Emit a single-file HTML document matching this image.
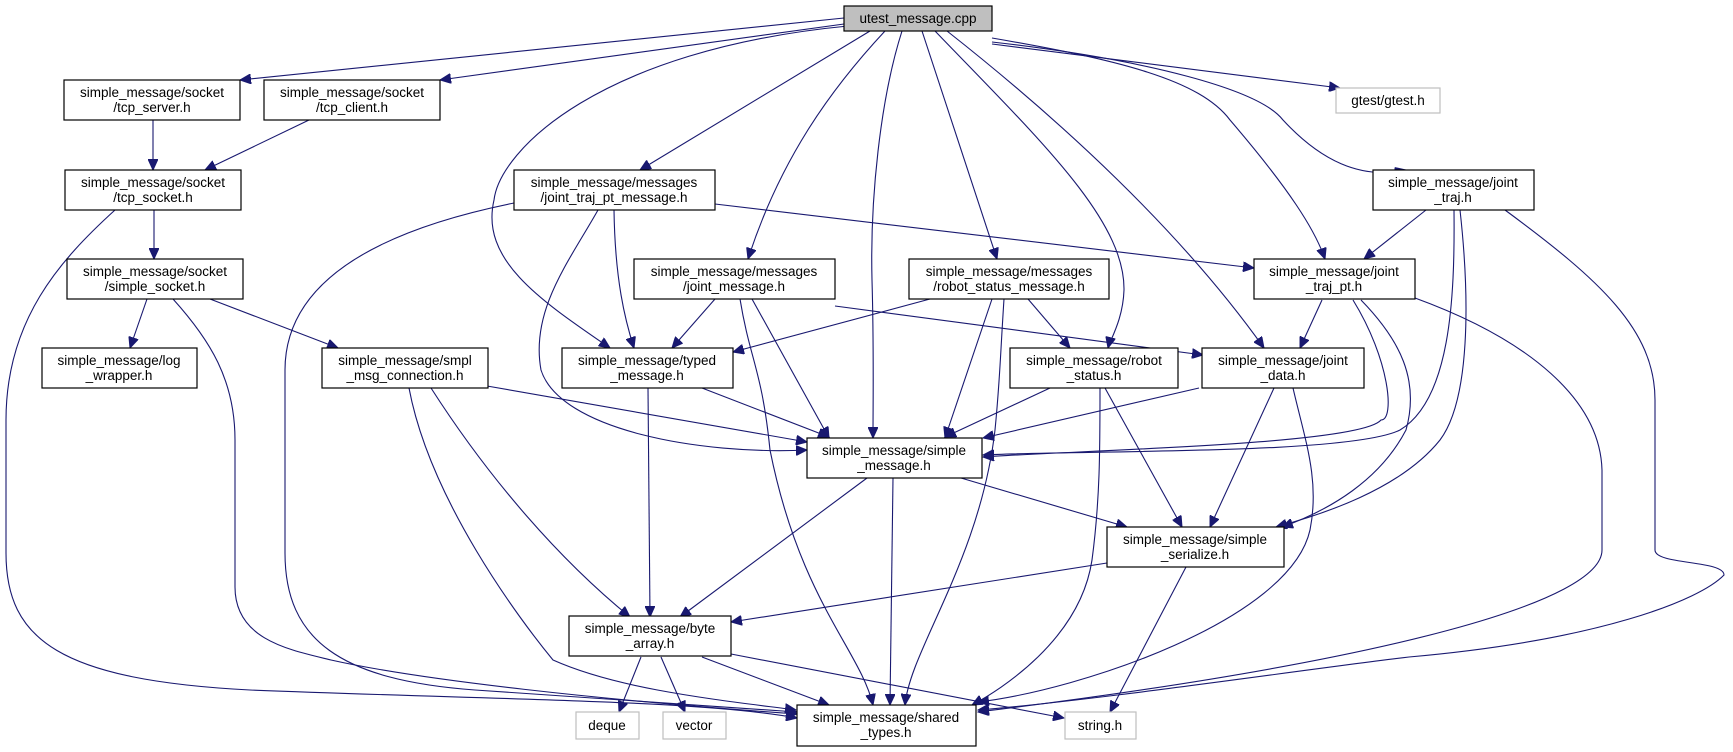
<!DOCTYPE html>
<html><head><meta charset="utf-8"><style>
html,body{margin:0;padding:0;background:#fff;}
svg{display:block;}
text{font-family:"Liberation Sans",sans-serif;font-size:13.5px;fill:#000;text-anchor:middle;}
.e{fill:none;stroke:#191970;stroke-width:1.1;marker-end:url(#a);}
.n{fill:#fff;stroke:#000;stroke-width:1.2;}
.x{fill:#fff;stroke:#bfbfbf;stroke-width:1.2;}
</style></head><body>
<svg width="1733" height="752" viewBox="0 0 1733 752" xmlns="http://www.w3.org/2000/svg">
<defs><marker id="a" markerUnits="userSpaceOnUse" markerWidth="12" markerHeight="10" refX="11" refY="5" orient="auto"><path d="M0,0 L11,5 L0,10 Z" fill="#191970" stroke="#191970"/></marker></defs>

<!-- edges -->
<path class="e" d="M844,18 L240,80"/>
<path class="e" d="M844,24 L440,80"/>
<path class="e" d="M848,26 C600,50 500,150 494,200 C480,260 540,300 610,348"/>
<path class="e" d="M870,31 L640,170"/>
<path class="e" d="M885,31 C830,90 780,160 748,259"/>
<path class="e" d="M902,31 C880,100 870,200 872,280 C874,350 873,400 873,438"/>
<path class="e" d="M922,31 L997,259"/>
<path class="e" d="M935,31 C1040,140 1125,220 1124,290 C1123,320 1110,340 1108,348"/>
<path class="e" d="M947,31 C1060,120 1180,230 1264,348"/>
<path class="e" d="M992,38 C1120,60 1200,80 1230,120 C1290,190 1315,230 1325,259"/>
<path class="e" d="M992,44 L1340,88"/>
<path class="e" d="M992,42 C1150,60 1260,90 1283,120 C1320,160 1360,180 1406,170"/>

<path class="e" d="M153,120 L153,170"/>
<path class="e" d="M309,120 L205,170"/>
<path class="e" d="M154,210 L154,259"/>
<path class="e" d="M115,210 C60,260 6,320 6,420 L6,553 C6,640 60,680 250,690 C500,700 700,700 797,718"/>
<path class="e" d="M147,299 L130,348"/>
<path class="e" d="M210,299 L338,348"/>
<path class="e" d="M173,299 C210,340 235,380 235,440 L235,587 C235,640 290,650 331,660 C420,680 600,700 797,714"/>
<path class="e" d="M514,203 C380,230 285,280 285,370 L285,553 C285,640 340,680 475,690 C600,698 700,705 797,712"/>
<path class="e" d="M598,210 C570,260 530,310 541,370 C560,430 700,455 807,450"/>
<path class="e" d="M614,210 C615,280 625,320 634,348"/>
<path class="e" d="M715,204 L1254,268"/>
<path class="e" d="M715,299 L672,348"/>
<path class="e" d="M740,299 C750,360 762,370 770,450 C800,600 860,650 873,705"/>
<path class="e" d="M752,299 L829,438"/>
<path class="e" d="M835,306 L1203,355"/>
<path class="e" d="M930,299 L733,352"/>
<path class="e" d="M992,299 L945,438"/>
<path class="e" d="M1004,299 C1000,360 1000,380 995,430 C980,560 910,650 905,705"/>
<path class="e" d="M1028,299 L1070,348"/>
<path class="e" d="M487,386 L807,442"/>
<path class="e" d="M431,388 C490,480 560,560 630,617"/>
<path class="e" d="M409,388 C430,500 520,620 553,660 C620,690 720,700 796,710"/>
<path class="e" d="M702,388 L829,437"/>
<path class="e" d="M648,388 L650,617"/>
<path class="e" d="M1050,388 L945,437"/>
<path class="e" d="M1100,388 C1100,450 1100,500 1092,560 C1080,640 1000,690 972,705"/>
<path class="e" d="M1105,388 L1182,527"/>
<path class="e" d="M1199,388 L983,438"/>
<path class="e" d="M1274,388 L1210,527"/>
<path class="e" d="M1293,388 C1305,440 1320,480 1310,530 C1290,620 1080,690 978,702"/>
<path class="e" d="M1322,300 L1300,348"/>
<path class="e" d="M1353,300 C1390,360 1395,420 1381,420 C1360,445 1080,450 983,457"/>
<path class="e" d="M1361,300 C1400,340 1420,380 1406,430 C1380,480 1330,510 1282,527"/>
<path class="e" d="M1415,298 C1530,340 1600,400 1602,470 L1602,550 C1602,600 1400,660 978,712"/>
<path class="e" d="M1426,210 L1364,259"/>
<path class="e" d="M1454,210 C1455,300 1450,400 1400,430 C1350,455 1080,450 983,455"/>
<path class="e" d="M1460,210 C1470,300 1470,400 1440,440 C1400,490 1320,515 1276,527"/>
<path class="e" d="M1505,210 C1600,280 1655,330 1655,400 L1655,550 C1655,565 1724,560 1724,575 C1700,600 1600,640 1409,657 C1300,670 1100,700 978,710"/>
<path class="e" d="M961,478 L1127,527"/>
<path class="e" d="M867,478 L680,617"/>
<path class="e" d="M893,478 L890,705"/>
<path class="e" d="M1107,563 L731,622"/>
<path class="e" d="M1186,567 L1110,712"/>
<path class="e" d="M641,657 L619,712"/>
<path class="e" d="M661,657 L685,712"/>
<path class="e" d="M702,657 L829,705"/>
<path class="e" d="M731,654 L1064,718"/>

<!-- nodes -->
<rect x="844" y="6" width="148" height="25" fill="#bfbfbf" stroke="#000" stroke-width="1.2"/><text x="918" y="23">utest_message.cpp</text>

<rect class="n" x="64" y="80" width="176" height="40"/><text x="152" y="97">simple_message/socket</text><text x="152" y="112">/tcp_server.h</text>
<rect class="n" x="264" y="80" width="176" height="40"/><text x="352" y="97">simple_message/socket</text><text x="352" y="112">/tcp_client.h</text>
<rect class="x" x="1336" y="88" width="104" height="25"/><text x="1388" y="105">gtest/gtest.h</text>

<rect class="n" x="65" y="170" width="176" height="40"/><text x="153" y="187">simple_message/socket</text><text x="153" y="202">/tcp_socket.h</text>
<rect class="n" x="514" y="170" width="201" height="40"/><text x="614" y="187">simple_message/messages</text><text x="614" y="202">/joint_traj_pt_message.h</text>
<rect class="n" x="1373" y="170" width="161" height="40"/><text x="1453" y="187">simple_message/joint</text><text x="1453" y="202">_traj.h</text>

<rect class="n" x="67" y="259" width="176" height="40"/><text x="155" y="276">simple_message/socket</text><text x="155" y="291">/simple_socket.h</text>
<rect class="n" x="634" y="259" width="201" height="40"/><text x="734" y="276">simple_message/messages</text><text x="734" y="291">/joint_message.h</text>
<rect class="n" x="909" y="259" width="200" height="40"/><text x="1009" y="276">simple_message/messages</text><text x="1009" y="291">/robot_status_message.h</text>
<rect class="n" x="1254" y="259" width="161" height="40"/><text x="1334" y="276">simple_message/joint</text><text x="1334" y="291">_traj_pt.h</text>

<rect class="n" x="42" y="348" width="155" height="40"/><text x="119" y="365">simple_message/log</text><text x="119" y="380">_wrapper.h</text>
<rect class="n" x="322" y="348" width="166" height="40"/><text x="405" y="365">simple_message/smpl</text><text x="405" y="380">_msg_connection.h</text>
<rect class="n" x="562" y="348" width="171" height="40"/><text x="647" y="365">simple_message/typed</text><text x="647" y="380">_message.h</text>
<rect class="n" x="1010" y="348" width="168" height="40"/><text x="1094" y="365">simple_message/robot</text><text x="1094" y="380">_status.h</text>
<rect class="n" x="1202" y="348" width="162" height="40"/><text x="1283" y="365">simple_message/joint</text><text x="1283" y="380">_data.h</text>

<rect class="n" x="807" y="438" width="175" height="40"/><text x="894" y="455">simple_message/simple</text><text x="894" y="470">_message.h</text>
<rect class="n" x="1107" y="527" width="177" height="40"/><text x="1195" y="544">simple_message/simple</text><text x="1195" y="559">_serialize.h</text>
<rect class="n" x="569" y="616" width="162" height="40"/><text x="650" y="633">simple_message/byte</text><text x="650" y="648">_array.h</text>

<rect class="x" x="576" y="712" width="63" height="27"/><text x="607" y="730">deque</text>
<rect class="x" x="663" y="712" width="63" height="27"/><text x="694" y="730">vector</text>
<rect class="n" x="797" y="705" width="179" height="41"/><text x="886" y="722">simple_message/shared</text><text x="886" y="737">_types.h</text>
<rect class="x" x="1065" y="712" width="71" height="27"/><text x="1100" y="730">string.h</text>
</svg>
</body></html>
